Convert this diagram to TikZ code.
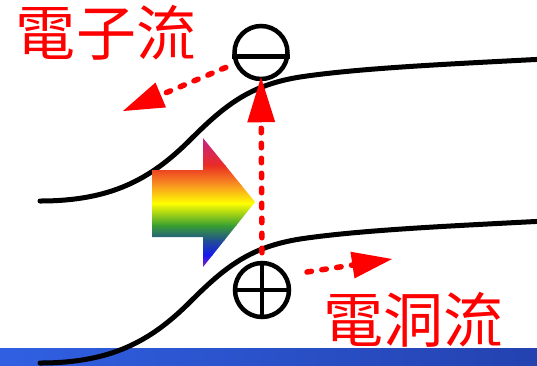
\documentclass[tikz,border=0pt]{standalone}
\usepackage{fontspec}
\newfontfamily\cjkfont{Noto Sans CJK TC}
\usetikzlibrary{arrows.meta}
\definecolor{flowred}{RGB}{255,0,0}
\definecolor{barleft}{RGB}{48,96,226}
\definecolor{barright}{RGB}{36,66,176}
\definecolor{rbMagenta}{RGB}{196,34,140}
\definecolor{rbRed}{RGB}{234,44,36}
\definecolor{rbOrange}{RGB}{248,150,32}
\definecolor{rbYellow}{RGB}{255,255,0}
\definecolor{rbGreen}{RGB}{58,160,48}
\definecolor{rbTeal}{RGB}{32,80,144}
\definecolor{rbBlue}{RGB}{24,24,240}
\definecolor{rbViolet}{RGB}{144,32,192}
\begin{document}
\begin{tikzpicture}[x=1pt,y=-1pt,
  bandline/.style={line width=5pt,line cap=round},
  carrier/.style={circle,draw,line width=4.5pt,fill=white,inner sep=0pt},
  signbar/.style={line width=4.5pt},
  flow/.style={draw=flowred,line width=5.5pt,line cap=round,dash pattern=on 4.5pt off 10.5pt},
  flowtext/.style={text=flowred,font=\cjkfont\fontsize{60}{60}\selectfont,inner sep=0pt}
]
\useasboundingbox (0,0) rectangle (537,365);

% blue strip along the bottom edge
\shade[left color=barleft,right color=barright] (0,348) rectangle (537,365);

% conduction and valence band edges
\draw[bandline] (40,201) .. controls (110,201) and (150,180) .. (190,140)
  .. controls (225,105) and (250,85) .. (300,77)
  .. controls (360,68) and (450,64) .. (545,59);
\draw[bandline] (40,363) .. controls (110,363) and (150,342) .. (190,302)
  .. controls (225,267) and (250,247) .. (300,239)
  .. controls (360,230) and (450,226) .. (545,221);

% rainbow block arrow
\begin{scope}
  \clip (152,170) -- (203,170) -- (203,138) -- (255,202) -- (203,267)
    -- (203,237) -- (152,237) -- cycle;
  \shade[top color=rbMagenta,bottom color=rbRed] (150,137) rectangle (258,165.5);
  \shade[top color=rbRed,bottom color=rbOrange] (150,165) rectangle (258,185.5);
  \shade[top color=rbOrange,bottom color=rbYellow] (150,185) rectangle (258,203.5);
  \shade[top color=rbYellow,bottom color=rbGreen] (150,203) rectangle (258,225.5);
  \shade[top color=rbGreen,bottom color=rbTeal] (150,225) rectangle (258,240.5);
  \shade[top color=rbTeal,bottom color=rbBlue] (150,240) rectangle (258,255.5);
  \shade[top color=rbBlue,bottom color=rbViolet] (150,255) rectangle (258,268);
\end{scope}

% electron and hole
\node[carrier,minimum size=53pt] (minus) at (261,52.5) {};
\draw[signbar] ([yshift=-4pt]minus.west) -- ([yshift=-4pt]minus.east);
\node[carrier,minimum size=54pt] (plus) at (262,290) {};
\draw[signbar] (plus.west) -- (plus.east);
\draw[signbar] (plus.north) -- (plus.south);

% carrier flows
\coordinate (eTip) at (123,111);
\coordinate (hStart) at (307,272);
\coordinate (hTip) at (392,259);
\draw[flow,-{Triangle[length=45pt,width=28pt,line width=0pt]},shorten <=8pt,shorten >=-4pt]
  (plus.north) -- (minus.south);
\draw[flow,-{Triangle[length=41pt,width=27pt,line width=0pt]},shorten <=9.5pt]
  (minus) -- (eTip);
\draw[flow,-{Triangle[length=40pt,width=27pt,line width=0pt]}]
  (hStart) -- (hTip);

% labels
\node[flowtext] (eLabel) at (106,33) {電子流};
\node[flowtext] (hLabel) at (413,320) {電洞流};
\end{tikzpicture}
\end{document}
